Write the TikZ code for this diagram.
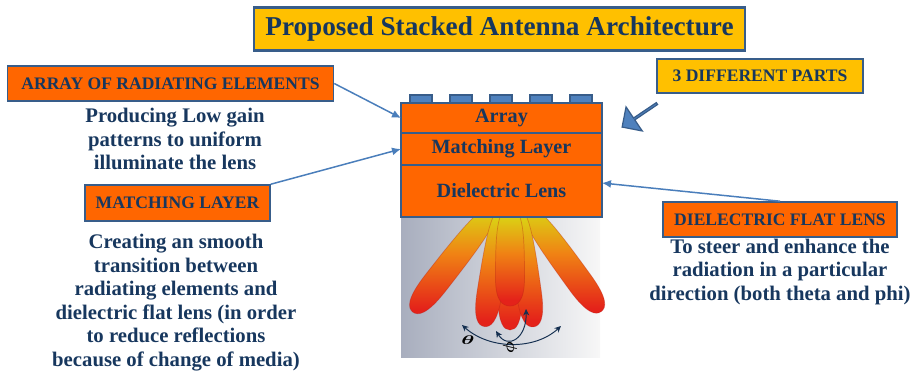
\documentclass[tikz,border=0pt]{standalone}
\usepackage{fontspec}
\setmainfont{Liberation Serif}
\usetikzlibrary{arrows.meta, positioning, shapes.arrows}

\definecolor{navy}{HTML}{17375E}
\definecolor{edgeblue}{HTML}{385D8A}
\definecolor{linkblue}{HTML}{4A7EBB}
\definecolor{patchblue}{HTML}{4F81BD}
\definecolor{hotorange}{HTML}{FF6600}
\definecolor{gold}{HTML}{FFC000}
\definecolor{lobeyellow}{HTML}{D6E414}
\definecolor{lobeorange}{HTML}{F08214}
\definecolor{lobered}{HTML}{E4221A}
\definecolor{backgray}{RGB}{168,174,190}

% far end red, near the lens yellow
\pgfdeclareverticalshading{lobeshade}{100bp}{
	color(0bp)=(lobered); color(28bp)=(lobered); color(52bp)=(lobeorange);
	color(68bp)=(lobeyellow!70!lobeorange); color(75bp)=(lobeyellow); color(100bp)=(lobeyellow)}

\begin{document}
\begin{tikzpicture}
	[
		x=0.02cm, y=-0.02cm,
		node distance=0mm,
		every node/.style={text=navy},
		tag/.style={
				rectangle,
				inner sep=0pt,
				line width=0.9pt,
				draw=edgeblue,
				fill=hotorange,
				font=\fontsize{10}{12}\selectfont\bfseries,
			},
		goldTag/.style={tag, fill=gold},
		layer/.style={
				rectangle,
				minimum width=4.02cm,
				inner sep=0pt,
				outer sep=0pt,
				line width=1.1pt,
				draw=edgeblue,
				fill=hotorange,
				font=\fontsize{11.5}{13}\selectfont\bfseries,
			},
		note/.style={align=center, inner sep=0pt, font=\fontsize{11.8}{13.4}\selectfont\bfseries},
		link/.style={draw=linkblue, line width=0.85pt, -{Latex[length=1.8mm, width=1.6mm]}},
		patch/.style={draw=edgeblue, line width=0.6pt, fill=patchblue},
		lobe/.style={shading=lobeshade, draw=lobered!80!black, draw opacity=0.35, line width=0.4pt},
		sweep/.style={draw=navy!85!black, line width=0.55pt, >={Stealth[length=1.3mm, width=1.2mm]}},
		symbol/.style={text=black, inner sep=0pt, font=\fontsize{8}{8}\selectfont\boldmath},
	]
	\useasboundingbox (0,0) rectangle (917,373);

	% title and the three labels round the stack
	\node [goldTag, line width=1.2pt, minimum width=9.82cm, minimum height=0.86cm,
		font=\fontsize{15.5}{18}\selectfont\bfseries] (title) at (499.5,29) {Proposed Stacked Antenna Architecture};
	\node [tag, minimum width=6.52cm, minimum height=0.70cm] (arrayTag) at (170.5,83.5) {ARRAY OF RADIATING ELEMENTS};
	\node [tag, minimum width=3.70cm, minimum height=0.72cm] (matchTag) at (177.5,203) {MATCHING LAYER};
	\node [goldTag, minimum width=4.12cm, minimum height=0.68cm] (partsTag) at (760,76) {3 DIFFERENT PARTS};
	\node [tag, minimum width=4.68cm, minimum height=0.70cm] (lensTag) at (780,219.5) {DIELECTRIC FLAT LENS};

	\node [note] (arrayNote) at (175,139) {Producing Low gain\\patterns to uniform\\illuminate the lens};
	\node [note] (matchNote) at (176,302.5) {Creating an smooth\\transition between\\radiating elements and\\dielectric flat lens (in order\\to reduce reflections\\because of change of media)};
	\node [note] (lensNote) at (780,272) {To steer and enhance the\\radiation in a particular\\direction (both theta and phi)};

	% radiation pattern under the lens
	\shade [left color=backgray, right color=black!3] (401,217) rectangle (600,357);
	\foreach \x/\a/\l/\w in {494/-38/132/13, 526/36/128/13, 510/0/122/12, 503/-9/120/12.5, 517/8/120/12.5, 510/0/98/14.5}
	{
		\begin{scope}[shift={(\x,208)}, rotate=\a]
			\path [lobe] (0,0) .. controls (\w*0.9,0) and (\w,\l*0.25) .. (\w,\l*0.72)
				.. controls (\w,\l*0.95) and (\w*0.5,\l) .. (0,\l)
				.. controls (-\w*0.5,\l) and (-\w,\l*0.95) .. (-\w,\l*0.72)
				.. controls (-\w,\l*0.25) and (-\w*0.9,0) .. (0,0);
		\end{scope}
	}
	\draw [sweep, <->] (462,325) .. controls (490,350) and (535,350) .. (561,326);
	\draw [sweep, <->] (496,331) .. controls (508,350) and (527,338) .. (526,309);
	\node [symbol] (thetaSym) at (468,340) {\scalebox{1.5}[0.9]{$\theta$}};
	\node [symbol, rotate=90, font=\fontsize{9.5}{9.5}\selectfont\boldmath] (phiSym) at (510,348) {$\phi$};

	% patches on top, then the stacked layers
	\foreach \i in {0,...,4}
		\draw [patch] (410+40*\i,95) rectangle ++(22,9);
	\node [layer, minimum height=0.60cm] (arr) at (501.5,118) {Array};
	\node [layer, minimum height=0.64cm, below=of arr] (mlayer) {Matching Layer};
	\node [layer, minimum height=1.04cm, below=of mlayer] (lens) {Dielectric Lens};

	\node [single arrow, minimum height=0.84cm, minimum width=0.58cm, single arrow head extend=0.147cm,
		inner sep=0pt, rotate=214, fill=patchblue, draw=edgeblue, line width=0.7pt] (partsArrow) at (640,115) {};

	\draw [link] (arrayTag.east) -- (arr.west);
	\draw [link] (matchTag.north east) -- (mlayer.west);
	\draw [link] (lensTag.north) -- ([yshift=0.16cm]lens.east);
\end{tikzpicture}
\end{document}
